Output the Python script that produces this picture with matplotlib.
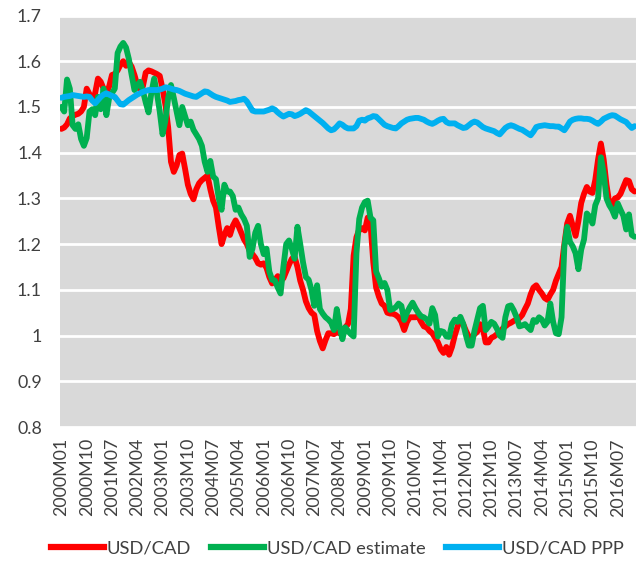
import matplotlib
matplotlib.use("Agg")
import matplotlib.pyplot as plt
from matplotlib.lines import Line2D

plt.rcParams['font.family'] = ['Lato', 'DejaVu Sans']

# Monthly categories 2000M01 .. 2017M01
start_year = 2000
n_months = 205
months = [f"{start_year + k // 12}M{k % 12 + 1:02d}" for k in range(n_months)]

usd_cad = [
    1.452, 1.455, 1.462, 1.475, 1.480, 1.483, 1.485, 1.490, 1.500, 1.540,
    1.528, 1.515, 1.530, 1.562, 1.555, 1.540, 1.530, 1.545, 1.570, 1.572,
    1.580, 1.592, 1.600, 1.590, 1.598, 1.588, 1.570, 1.548, 1.538, 1.545,
    1.575, 1.580, 1.578, 1.575, 1.572, 1.568, 1.540, 1.505, 1.455, 1.380,
    1.358, 1.372, 1.395, 1.398, 1.365, 1.330, 1.310, 1.298, 1.320, 1.333,
    1.340, 1.345, 1.350, 1.320, 1.295, 1.280, 1.238, 1.200, 1.220, 1.235,
    1.220, 1.240, 1.252, 1.240, 1.225, 1.210, 1.200, 1.185, 1.178, 1.170,
    1.158, 1.155, 1.158, 1.148, 1.128, 1.114, 1.122, 1.130, 1.120, 1.125,
    1.140, 1.155, 1.168, 1.172, 1.150, 1.120, 1.100, 1.075, 1.060, 1.050,
    1.045, 1.010, 0.988, 0.972, 0.990, 1.005, 1.005, 1.003, 1.008, 1.005,
    1.010, 1.018, 1.025, 1.058, 1.175, 1.215, 1.232, 1.235, 1.230, 1.258,
    1.245, 1.160, 1.105, 1.085, 1.070, 1.065, 1.050, 1.048, 1.048, 1.045,
    1.040, 1.030, 1.012, 1.030, 1.040, 1.040, 1.040, 1.042, 1.030, 1.020,
    1.018, 1.010, 1.005, 0.995, 0.985, 0.970, 0.962, 0.975, 0.958, 0.975,
    1.000, 1.020, 1.035, 1.025, 1.010, 0.998, 0.995, 1.003, 1.008, 1.025,
    1.015, 0.985, 0.985, 0.995, 0.998, 1.003, 1.005, 1.015, 1.020, 1.025,
    1.028, 1.032, 1.035, 1.038, 1.045, 1.058, 1.070, 1.090, 1.105, 1.110,
    1.100, 1.092, 1.082, 1.078, 1.090, 1.100, 1.120, 1.135, 1.150, 1.200,
    1.245, 1.262, 1.240, 1.218, 1.250, 1.290, 1.310, 1.325, 1.315, 1.312,
    1.340, 1.385, 1.420, 1.385, 1.330, 1.290, 1.285, 1.300, 1.302, 1.310,
    1.325, 1.340, 1.338, 1.320, 1.315,
]

usd_cad_estimate = [
    1.500, 1.490, 1.560, 1.540, 1.460, 1.452, 1.462, 1.430, 1.415, 1.432,
    1.490, 1.495, 1.482, 1.522, 1.495, 1.540, 1.482, 1.520, 1.530, 1.540,
    1.618, 1.632, 1.640, 1.630, 1.605, 1.570, 1.537, 1.548, 1.555, 1.535,
    1.510, 1.488, 1.530, 1.562, 1.530, 1.490, 1.440, 1.470, 1.520, 1.548,
    1.520, 1.490, 1.460, 1.500, 1.480, 1.460, 1.468, 1.450, 1.440, 1.430,
    1.415, 1.380, 1.358, 1.382, 1.348, 1.342, 1.300, 1.275, 1.330, 1.315,
    1.315, 1.305, 1.275, 1.280, 1.265, 1.255, 1.240, 1.172, 1.190, 1.225,
    1.240, 1.200, 1.178, 1.190, 1.140, 1.122, 1.120, 1.105, 1.092, 1.150,
    1.200, 1.208, 1.190, 1.168, 1.238, 1.200, 1.160, 1.128, 1.122, 1.100,
    1.065, 1.110, 1.058, 1.048, 1.040, 1.035, 1.028, 1.012, 1.058, 1.020,
    0.992, 1.018, 1.010, 1.003, 0.998, 1.180, 1.255, 1.280, 1.292, 1.295,
    1.258, 1.252, 1.140, 1.125, 1.107, 1.115, 1.100, 1.056, 1.058, 1.062,
    1.070, 1.065, 1.034, 1.050, 1.062, 1.072, 1.060, 1.050, 1.042, 1.040,
    1.035, 1.026, 1.060, 1.045, 0.998, 1.010, 1.008, 0.998, 0.997, 1.025,
    1.035, 1.030, 1.041, 1.026, 1.000, 0.978, 0.978, 1.010, 1.035, 1.060,
    1.065, 1.012, 1.020, 1.030, 1.026, 1.015, 1.000, 0.995, 1.040, 1.064,
    1.066, 1.055, 1.040, 1.020, 1.022, 1.025, 1.018, 1.012, 1.034, 1.030,
    1.040, 1.035, 1.022, 1.030, 1.070, 1.030, 1.005, 1.003, 1.040, 1.194,
    1.238, 1.205, 1.195, 1.180, 1.145, 1.188, 1.210, 1.267, 1.260, 1.245,
    1.285, 1.300, 1.390, 1.355, 1.300, 1.285, 1.275, 1.260, 1.289, 1.275,
    1.262, 1.232, 1.265, 1.220, 1.216,
]

usd_cad_ppp = [
    1.520, 1.522, 1.523, 1.524, 1.526, 1.525, 1.524, 1.523, 1.522, 1.523,
    1.522, 1.514, 1.508, 1.515, 1.522, 1.527, 1.530, 1.527, 1.524, 1.522,
    1.514, 1.506, 1.505, 1.510, 1.515, 1.519, 1.523, 1.527, 1.530, 1.533,
    1.535, 1.537, 1.537, 1.537, 1.537, 1.538, 1.540, 1.543, 1.542, 1.540,
    1.538, 1.537, 1.535, 1.532, 1.529, 1.527, 1.525, 1.523, 1.522, 1.526,
    1.530, 1.534, 1.533, 1.529, 1.525, 1.522, 1.520, 1.518, 1.516, 1.514,
    1.511, 1.512, 1.513, 1.515, 1.516, 1.518, 1.512, 1.502, 1.492, 1.490,
    1.490, 1.490, 1.490, 1.492, 1.494, 1.497, 1.494, 1.488, 1.483, 1.479,
    1.482, 1.485, 1.484, 1.480, 1.482, 1.485, 1.489, 1.493, 1.490, 1.485,
    1.480, 1.475, 1.470, 1.465, 1.459, 1.453, 1.449, 1.451, 1.457, 1.464,
    1.461, 1.456, 1.453, 1.453, 1.453, 1.458, 1.470, 1.472, 1.470, 1.475,
    1.477, 1.480, 1.479, 1.473, 1.467, 1.461, 1.458, 1.456, 1.454, 1.453,
    1.458, 1.464, 1.468, 1.472, 1.474, 1.475, 1.476, 1.476, 1.474, 1.472,
    1.468, 1.465, 1.463, 1.466, 1.470, 1.473, 1.474, 1.467, 1.464, 1.464,
    1.464, 1.460, 1.457, 1.454, 1.455, 1.460, 1.465, 1.468, 1.466, 1.461,
    1.456, 1.453, 1.451, 1.449, 1.447, 1.443, 1.440, 1.447, 1.454, 1.458,
    1.460, 1.458, 1.455, 1.452, 1.450, 1.446, 1.442, 1.438, 1.446, 1.456,
    1.458, 1.459, 1.460, 1.459, 1.458, 1.458, 1.457, 1.457, 1.453, 1.449,
    1.458, 1.468, 1.472, 1.474, 1.475, 1.475, 1.474, 1.474, 1.473, 1.470,
    1.466, 1.463, 1.468, 1.474, 1.477, 1.480, 1.482, 1.481, 1.477, 1.473,
    1.470, 1.467, 1.460, 1.454, 1.458,
]

series_names = ["USD/CAD", "USD/CAD estimate", "USD/CAD PPP"]
series_colors = ["#FF0000", "#00B050", "#00B0F0"]
y_ticks = [0.8, 0.9, 1.0, 1.1, 1.2, 1.3, 1.4, 1.5, 1.6, 1.7]
y_tick_labels = ["0.8", "0.9", "1", "1.1", "1.2", "1.3", "1.4", "1.5", "1.6", "1.7"]
label_step = 9

W, H = 636, 561
fig = plt.figure(figsize=(W / 100, H / 100), dpi=100)
ax = fig.add_axes([60 / W, 1 - 427 / H, (636 - 60) / W, (427 - 15.5) / H])
ax.set_facecolor("#D9D9D9")

x = list(range(n_months))
for vals, col in zip([usd_cad, usd_cad_estimate, usd_cad_ppp], series_colors):
    ax.plot(x, vals, color=col, lw=4.2, solid_joinstyle="round", solid_capstyle="round", zorder=3)

ax.set_xlim(-0.5, n_months - 0.5)
ax.set_ylim(0.8, 1.7)
ax.set_yticks(y_ticks)
ax.set_yticklabels(y_tick_labels)
ax.yaxis.grid(True, color="white", lw=2)
ax.set_axisbelow(True)
tick_pos = list(range(0, n_months, label_step))[:23]
ax.set_xticks(tick_pos)
ax.set_xticklabels([months[p] for p in tick_pos], rotation=90)
ax.tick_params(axis="both", length=0, labelsize=12.8, colors="#404040")
ax.tick_params(axis="y", pad=13)
ax.tick_params(axis="x", pad=8)
for s in ax.spines.values():
    s.set_visible(False)

handles = [Line2D([], [], color=c, lw=4.5) for c in series_colors]
fig.legend(handles, series_names, loc="center", bbox_to_anchor=(0.53, 1 - 548 / H),
           ncol=3, frameon=False, fontsize=13.2, handlelength=2.9, handletextpad=0.15,
           columnspacing=1.1, labelcolor="#404040")

fig.savefig("out.png", dpi=100)
